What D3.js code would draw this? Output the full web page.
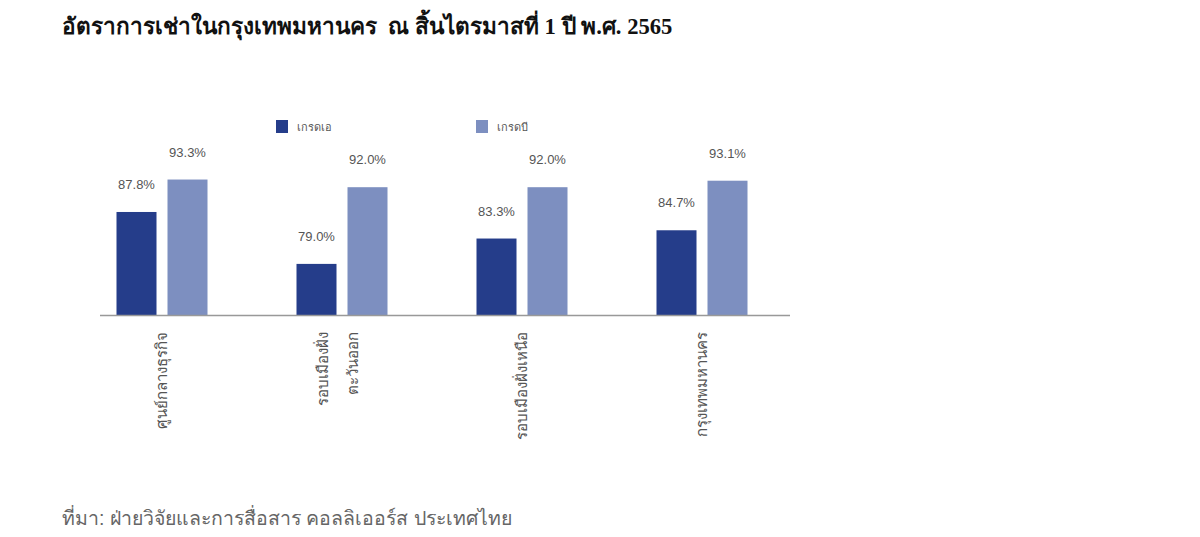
<!DOCTYPE html>
<html>
<head>
<meta charset="utf-8">
<script src="https://cdn.jsdelivr.net/npm/d3@7"></script>
<style>
  body { margin:0; background:#fff; }
  svg { display:block; }
</style>
</head>
<body>
<svg id="chart" width="1200" height="537"></svg>
<script>
// data
const categories = [
  ['ศูนย์กลางธุรกิจ'],
  ['รอบเมืองฝั่ง', 'ตะวันออก'],
  ['รอบเมืองฝั่งเหนือ'],
  ['กรุงเทพมหานคร']
];
const seriesNames = ['เกรดเอ', 'เกรดบี'];
const gradeA = [87.8, 79.0, 83.3, 84.7];
const gradeB = [93.3, 92.0, 92.0, 93.1];

const colors = ['#253d8a', '#7d8fc0'];
const svg = d3.select('#chart');

// title + source
svg.append('text')
  .attr('x', 62).attr('y', 34)
  .attr('font-family', '"Liberation Serif", serif')
  .attr('font-weight', 'bold')
  .attr('font-size', 22.6)
  .attr('fill', '#111')
  .text('อัตราการเช่าในกรุงเทพมหานคร\u00a0 ณ สิ้นไตรมาสที่ 1 ปี พ.ศ. 2565');

svg.append('text')
  .attr('x', 62).attr('y', 525)
  .attr('font-family', '"Liberation Sans", sans-serif')
  .attr('font-size', 19.5)
  .attr('fill', '#666')
  .text('ที่มา: ฝ่ายวิจัยและการสื่อสาร คอลลิเออร์ส ประเทศไทย');

// scales
const BASE = 315;
const x = d3.scaleBand().domain(d3.range(categories.length)).range([72, 792]);
const y = d3.scaleLinear().domain([70, 95]).range([317, 169.5]);
const BW = 40, GAP = 11;

const rows = categories.map((c, i) => ({i, vals: [gradeA[i], gradeB[i]]}));

const g = svg.append('g');
const grp = g.selectAll('g.grp').data(rows).join('g')
  .attr('transform', d => `translate(${x(d.i) + x.bandwidth()/2},0)`);

grp.selectAll('rect').data(d => d.vals).join('rect')
  .attr('x', (v, j) => j === 0 ? -BW - GAP/2 : GAP/2)
  .attr('y', v => y(v))
  .attr('width', BW)
  .attr('height', v => BASE - y(v))
  .attr('fill', (v, j) => colors[j]);

grp.selectAll('text.val').data(d => d.vals).join('text')
  .attr('class', 'val')
  .attr('x', (v, j) => j === 0 ? -BW/2 - GAP/2 : BW/2 + GAP/2)
  .attr('y', v => y(v) - 23)
  .attr('text-anchor', 'middle')
  .attr('font-family', '"Liberation Sans", Arial, sans-serif')
  .attr('font-size', 13)
  .attr('fill', '#555')
  .text(v => v.toFixed(1) + '%');

// x axis line
g.append('line')
  .attr('x1', 100).attr('x2', 790)
  .attr('y1', BASE + 0.5).attr('y2', BASE + 0.5)
  .attr('stroke', '#999').attr('stroke-width', 1.5);

// rotated category labels
const lab = grp.append('text')
  .attr('transform', 'translate(0,332) rotate(-90)')
  .attr('text-anchor', 'end')
  .attr('font-family', '"Liberation Sans", sans-serif')
  .attr('font-size', 15)
  .attr('fill', '#555');
lab.each(function(d) {
  const lines = categories[d.i];
  const t = d3.select(this);
  lines.forEach((s, k) => {
    t.append('tspan')
      .attr('x', 0)
      .attr('y', lines.length > 1 ? k * 30 - 14 : 5)
      .text(s);
  });
});

// legend
const leg = svg.append('g').selectAll('g').data(seriesNames).join('g')
  .attr('transform', (d, i) => `translate(${276 + i*200},120)`);
leg.append('rect').attr('width', 12).attr('height', 13).attr('fill', (d, i) => colors[i]);
leg.append('text')
  .attr('x', 21).attr('y', 11)
  .attr('font-family', '"Liberation Sans", sans-serif')
  .attr('font-size', 11)
  .attr('fill', '#555')
  .text(d => d);
</script>
</body>
</html>
